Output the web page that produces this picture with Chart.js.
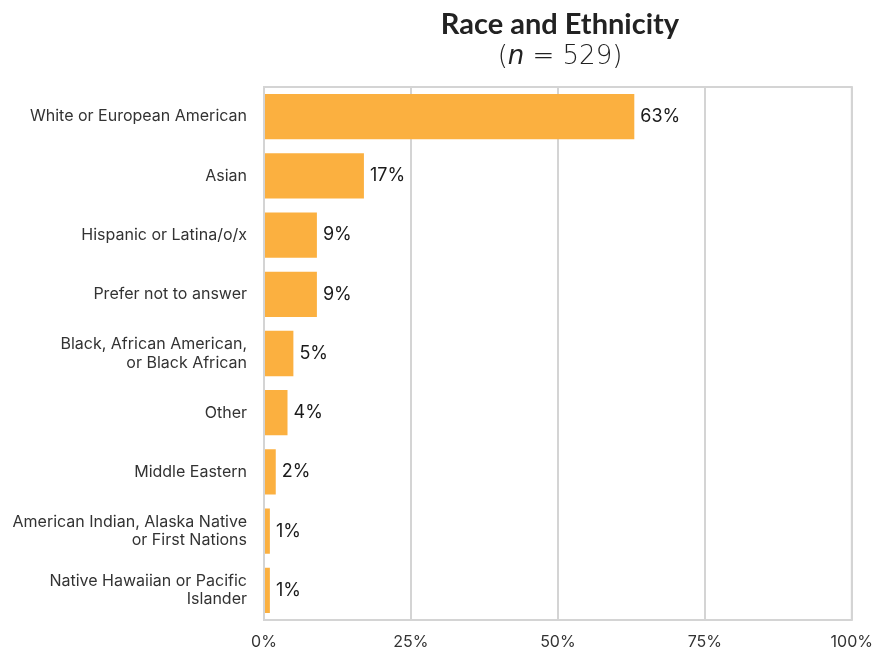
<!DOCTYPE html>
<html>
<head>
  <meta charset="UTF-8">
  <title>Race and Ethnicity</title>
  <script src="https://cdn.jsdelivr.net/npm/chart.js"></script>
  <style>
    html, body { margin: 0; padding: 0; background: #fff; }
    #wrap { position: relative; width: 886px; height: 649px; }
    #heading { position: absolute; left: 264px; width: 592px; top: 7px; text-align: center; color: #222; font-family: Lato, sans-serif; }
    #heading .main { font-weight: 700; font-size: 29px; line-height: 32px; }
    #heading .sub { font-size: 26px; line-height: 32px; font-family: "DejaVu Sans", sans-serif; font-weight: 300; }
  </style>
</head>
<body>
  <div id="wrap">
    <canvas id="chart" width="886" height="649"></canvas>
    <div id="heading">
      <div class="main">Race and Ethnicity</div>
      <div class="sub">(<i>n</i> = 529)</div>
    </div>
  </div>

  <script>
    // chart data
    const categories = [
      'White or European American',
      'Asian',
      'Hispanic or Latina/o/x',
      'Prefer not to answer',
      ['Black, African American,', 'or Black African'],
      'Other',
      'Middle Eastern',
      ['American Indian, Alaska Native', 'or First Nations'],
      ['Native Hawaiian or Pacific', 'Islander']
    ];
    const percents = [63, 17, 9, 9, 5, 4, 2, 1, 1];
    const xTicks = [0, 25, 50, 75, 100];

    // value labels at the end of each bar
    const barLabels = {
      id: 'barLabels',
      afterDatasetsDraw(chart) {
        const ctx = chart.ctx;
        const meta = chart.getDatasetMeta(0);
        ctx.save();
        ctx.font = '18px Inter, sans-serif';
        ctx.fillStyle = '#1a1a1a';
        ctx.textAlign = 'left';
        ctx.textBaseline = 'middle';
        meta.data.forEach((bar, i) => {
          ctx.fillText(percents[i] + '%', bar.x + 6, bar.y);
        });
        ctx.restore();
      }
    };

    // light box round the plot area
    const frame = {
      id: 'frame',
      afterDraw(chart) {
        const a = chart.chartArea;
        const ctx = chart.ctx;
        ctx.save();
        ctx.strokeStyle = '#d4d4d4';
        ctx.lineWidth = 2;
        ctx.strokeRect(a.left, a.top, a.right - a.left, a.bottom - a.top);
        ctx.restore();
      }
    };

    new Chart(document.getElementById('chart'), {
      type: 'bar',
      data: {
        labels: categories,
        datasets: [{
          data: percents,
          backgroundColor: '#fbb040',
          borderWidth: 0,
          barPercentage: 0.85,
          categoryPercentage: 0.9
        }]
      },
      options: {
        indexAxis: 'y',
        responsive: false,
        animation: false,
        layout: { padding: { top: 87, right: 30, left: 0, bottom: 0 } },
        plugins: { legend: { display: false }, tooltip: { enabled: false } },
        scales: {
          x: {
            min: 0,
            max: 100,
            afterBuildTicks(scale) { scale.ticks = xTicks.map(v => ({ value: v })); },
            afterFit(scale) { scale.height = 29; },
            grid: { color: '#d4d4d4', lineWidth: 2, drawTicks: false },
            border: { display: false },
            ticks: {
              padding: 13,
              color: '#333',
              font: { family: 'Inter, sans-serif', size: 16 },
              callback: v => v + '%'
            }
          },
          y: {
            afterFit(scale) { scale.width = 264; },
            grid: { display: false },
            border: { display: false },
            ticks: {
              padding: 9,
              color: '#333',
              font: { family: 'Inter, sans-serif', size: 16, lineHeight: 1.15 }
            }
          }
        }
      },
      plugins: [barLabels, frame]
    });
  </script>
</body>
</html>
